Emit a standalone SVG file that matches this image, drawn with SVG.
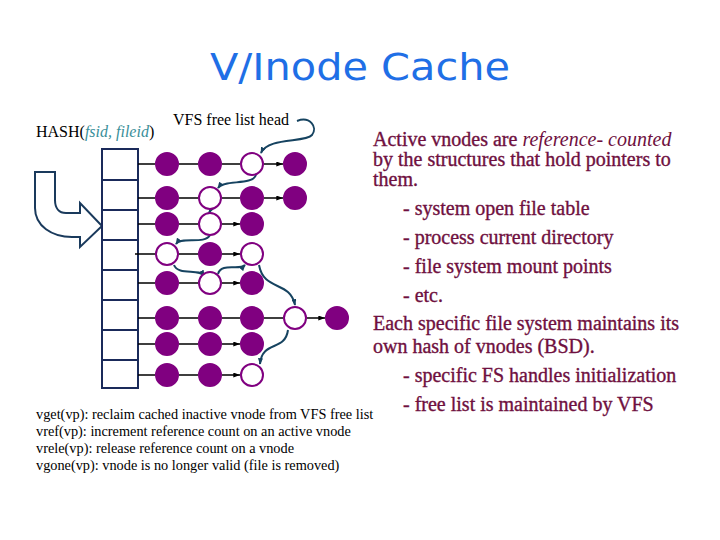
<svg xmlns="http://www.w3.org/2000/svg" width="720" height="540" viewBox="0 0 720 540">
<defs>
<marker id="ab" viewBox="0 0 8 6" refX="8" refY="3" markerWidth="7" markerHeight="5" orient="auto" markerUnits="userSpaceOnUse"><path d="M0,0 L8,3 L0,6 Z" fill="#000"/></marker>
<marker id="at" viewBox="0 0 8 6" refX="7" refY="3" markerWidth="7" markerHeight="5" orient="auto" markerUnits="userSpaceOnUse"><path d="M0,0 L8,3 L0,6 Z" fill="#164360"/></marker>
<style>
.f{fill:#800080;stroke:#800080;stroke-width:2}
.h{fill:#fff;stroke:#800080;stroke-width:2}
.ln{stroke:#000;stroke-width:1.5;fill:none;marker-end:url(#ab)}
.fl{stroke:#164360;stroke-width:2;fill:none;marker-end:url(#at)}
.tb{fill:#fff;stroke:#1a2a5a;stroke-width:2}
.t{font-family:"Liberation Serif","Times New Roman",serif;fill:#000}
.r{font-family:"Liberation Serif","Times New Roman",serif;font-size:20px;fill:#6f1040;stroke:#6f1040;stroke-width:0.35}
</style>
</defs>
<rect width="720" height="540" fill="#fff"/>
<text x="360" y="80" text-anchor="middle" font-family="'Comic Sans MS','DejaVu Sans',sans-serif" font-size="38" fill="#1f6fe6" textLength="300" lengthAdjust="spacingAndGlyphs">V/Inode Cache</text>

<g id="hash-label"><text class="t" x="36" y="137" font-size="16">HASH(<tspan font-style="italic" fill="#3a8f9a">fsid, fileid</tspan>)</text></g>
<g id="free-head-label"><text class="t" x="173" y="125" font-size="16">VFS free list head</text></g>

<g id="hash-arrow"><path d="M35,172 L35,208 C35,226 52,237 72,237 L80,237 L80,247 L102,226 L80,203 L80,213 L66,213 C59,213 55,208 55,200 L55,172 Z" fill="#fff" stroke="#1a3a5c" stroke-width="2"/></g>

<g id="hash-table">
<rect class="tb" x="102" y="149" width="36" height="239"/>
<path d="M102,180H138M102,210H138M102,240H138M102,270H138M102,300H138M102,330H138M102,360H138" stroke="#1a2a5a" stroke-width="2"/>
</g>

<g id="connectors">
<path class="ln" d="M138,164H155M179,164H198M222,164H240M264,164H283"/>
<path class="ln" d="M138,198H155M179,198H198M222,198H240M264,198H283"/>
<path class="ln" d="M138,224H155M179,224H198M222,224H240"/>
<path class="ln" d="M135,254H155M179,254H198M222,254H240"/>
<path class="ln" d="M138,283H155M179,283H198M222,283H240"/>
<path class="ln" d="M138,318H155M179,318H198M222,318H240M264,318H283M307,318H325"/>
<path class="ln" d="M138,344H155M179,344H198M222,344H240"/>
<path class="ln" d="M138,375H155M179,375H198M222,375H240"/>
<path class="fl" d="M297,121 C310,116 318,127 312,135 C305,143 268,137 261,153"/>
<path class="fl" d="M256,175 C252,186 224,179 218,188"/>
<path class="fl" d="M211,209 L209,213"/>
<path class="fl" d="M210,235 C205,245 181,236 176,244"/>
<path class="fl" d="M174,265 C178,276 200,268 204,276"/>
<path class="fl" d="M218,274 C221,262 240,271 245,265"/>
<path class="fl" d="M259,265 C264,292 290,280 295,305"/>
<path class="fl" d="M288,330 C285,352 262,340 260,364"/>
</g>

<g id="row1"><circle class="f" cx="167" cy="164" r="11"/><circle class="f" cx="210" cy="164" r="11"/><circle class="h" cx="252" cy="164" r="11"/><circle class="f" cx="295" cy="164" r="11"/></g>
<g id="row2"><circle class="f" cx="167" cy="198" r="11"/><circle class="h" cx="210" cy="198" r="11"/><circle class="f" cx="252" cy="198" r="11"/><circle class="f" cx="295" cy="198" r="11"/></g>
<g id="row3"><circle class="f" cx="167" cy="224" r="11"/><circle class="h" cx="210" cy="224" r="11"/><circle class="f" cx="252" cy="224" r="11"/></g>
<g id="row4"><circle class="h" cx="167" cy="254" r="11"/><circle class="f" cx="210" cy="254" r="11"/><circle class="h" cx="252" cy="254" r="11"/></g>
<g id="row5"><circle class="f" cx="167" cy="283" r="11"/><circle class="h" cx="210" cy="283" r="11"/><circle class="f" cx="252" cy="283" r="11"/></g>
<g id="row6"><circle class="f" cx="167" cy="318" r="11"/><circle class="f" cx="210" cy="318" r="11"/><circle class="f" cx="252" cy="318" r="11"/><circle class="h" cx="295" cy="318" r="11"/><circle class="f" cx="337" cy="318" r="11"/></g>
<g id="row7"><circle class="f" cx="167" cy="344" r="11"/><circle class="f" cx="210" cy="344" r="11"/><circle class="f" cx="252" cy="344" r="11"/></g>
<g id="row8"><circle class="f" cx="167" cy="375" r="11"/><circle class="f" cx="210" cy="375" r="11"/><circle class="h" cx="252" cy="375" r="11"/></g>

<g id="ops" class="t" font-size="14.3">
<text x="36" y="419">vget(vp): reclaim cached inactive vnode from VFS free list</text>
<text x="36" y="436">vref(vp): increment reference count on an active vnode</text>
<text x="36" y="453">vrele(vp): release reference count on a vnode</text>
<text x="36" y="470">vgone(vp): vnode is no longer valid (file is removed)</text>
</g>

<g id="notes" class="r">
<text x="373" y="146">Active vnodes are <tspan font-style="italic" stroke-width="0" fill="#6f1040">reference- counted</tspan></text>
<text x="373" y="166">by the structures that hold pointers to</text>
<text x="373" y="186">them.</text>
<text x="403" y="215">- system open file table</text>
<text x="403" y="244">- process current directory</text>
<text x="403" y="273">- file system mount points</text>
<text x="403" y="302">- etc.</text>
<text x="373" y="330">Each specific file system maintains its</text>
<text x="373" y="353">own hash of vnodes (BSD).</text>
<text x="403" y="382">- specific FS handles initialization</text>
<text x="403" y="411">- free list is maintained by VFS</text>
</g>
</svg>
